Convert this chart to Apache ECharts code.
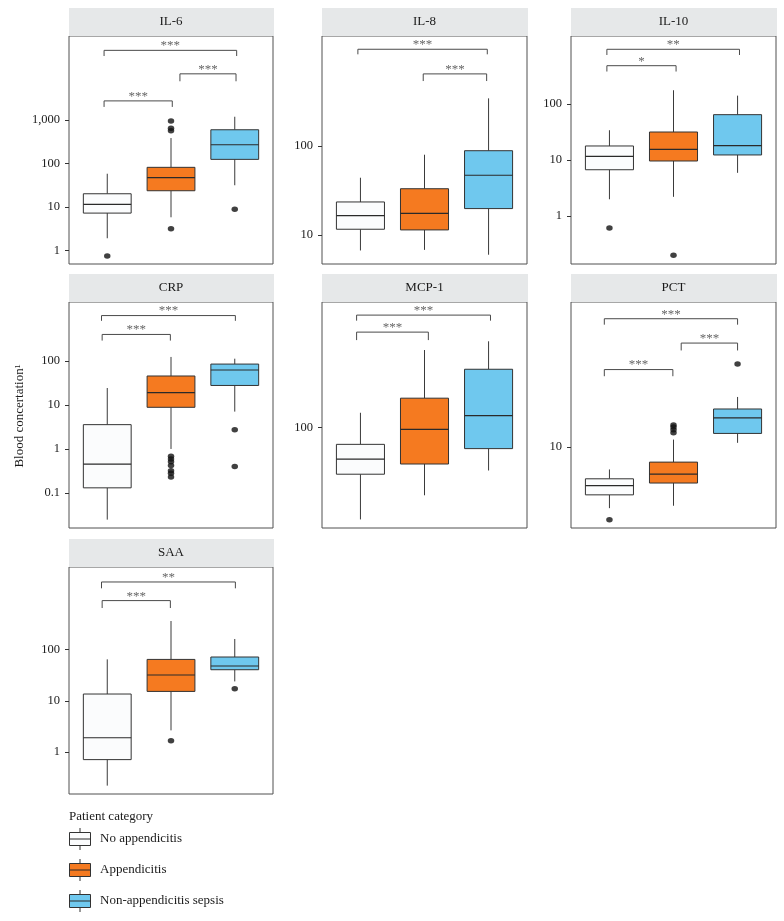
<!DOCTYPE html>
<html><head><meta charset="utf-8">
<script src="https://cdn.jsdelivr.net/npm/echarts@6/dist/echarts.min.js"></script>
<style>html,body{margin:0;padding:0;background:#fff}#c{width:784px;height:921px}</style>
</head><body><div id="c"></div><script>
// ---------- data ----------
const categories = ['No appendicitis', 'Appendicitis', 'Non-appendicitis sepsis'];
const panelNames = ['IL-6', 'IL-8', 'IL-10', 'CRP', 'MCP-1', 'PCT', 'SAA'];

// box stats per category: [whiskerLow, Q1, median, Q3, whiskerHigh]
const il6Box  = [[1.93, 7.3, 11.6, 20.3, 58.5], [5.85, 23.8, 47.4, 82, 386], [31.8, 125, 271, 598, 1190]];
const il8Box  = [[6.7, 11.6, 16.5, 23.5, 44], [6.8, 11.4, 17.5, 33.1, 79.8], [6.0, 19.8, 46.9, 88.5, 343]];
const il10Box = [[1.99, 6.7, 11.6, 17.8, 34], [2.2, 9.6, 15.5, 31.6, 176], [5.9, 12.3, 18, 64.5, 141]];
const crpBox  = [[0.0245, 0.13, 0.45, 3.58, 24.5], [1.0, 8.9, 19.2, 46, 125], [7.1, 28, 63, 86, 114]];
const mcp1Box = [[26.7, 51.2, 63.7, 78.7, 124], [37.8, 59.3, 97.7, 153, 306], [54, 74, 119, 232, 347]];
const pctBox  = [[4.95, 5.77, 6.41, 6.94, 7.73], [5.09, 6.61, 7.33, 8.41, 10.9], [10.5, 11.7, 14, 15.5, 17.8]];
const saaBox  = [[0.22, 0.71, 1.9, 13.6, 64.8], [2.65, 15.3, 32, 64.6, 364], [24, 40.6, 48, 72, 162]];

// outliers per category
const il6Out  = [[0.76], [3.2, 570, 646, 948], [8.9]];
const il8Out  = [[], [], []];
const il10Out = [[0.61], [0.2], []];
const crpOut  = [[], [0.68, 0.59, 0.51, 0.42, 0.32, 0.28, 0.23], [2.75, 0.40]];
const mcp1Out = [[], [], []];
const pctOut  = [[4.33], [11.8, 12.2, 12.6, 12.9], [26]];
const saaOut  = [[], [1.66], [17.3]];

// significance brackets: [fromX, toX, barValue, tipValue, label]
const il6Sig  = [[0.95, 3.03, 39800, 29500, '***'], [2.14, 3.02, 11500, 7760, '***'], [0.95, 2.02, 2750, 2000, '***']];
const il8Sig  = [[0.96, 2.98, 1222, 1072, '***'], [1.98, 2.97, 646, 537, '***']];
const il10Sig = [[0.96, 3.03, 948, 750, '**'], [0.96, 2.04, 483, 380, '*']];
const crpSig  = [[0.91, 3.01, 1096, 832, '***'], [0.92, 1.99, 407, 295, '***']];
const mcp1Sig = [[0.94, 3.03, 506, 467, '***'], [0.94, 2.06, 396, 353, '***']];
const pctSig  = [[0.92, 3.0, 43.8, 40.9, '***'], [2.12, 3.0, 33.1, 30.4, '***'], [0.92, 1.99, 24.4, 22.6, '***']];
const saaSig  = [[0.91, 3.01, 2109, 1585, '**'], [0.92, 1.99, 912, 653, '***']];

// y tick labels (values)
const il6Ticks  = [1, 10, 100, 1000];
const il8Ticks  = [10, 100];
const il10Ticks = [1, 10, 100];
const crpTicks  = [0.1, 1, 10, 100];
const mcp1Ticks = [100];
const pctTicks  = [10];
const saaTicks  = [1, 10, 100];

// y-axis ranges (values)
const il6Range  = [0.495, 85000];
const il8Range  = [4.72, 1722];
const il10Range = [0.139, 1637];
const crpRange  = [0.0158, 2234];
const mcp1Range = [23.6, 611];
const pctRange  = [3.94, 53.1];
const saaRange  = [0.151, 4140];

const yTitle = 'Blood concertation¹';
const legendTitle = 'Patient category';

// ---------- layout / style ----------
const FONT = "'Liberation Serif', 'DejaVu Serif', serif";
const fills = ['#fbfcfd', '#f57a20', '#6fc8ee'];
const panels = [
  { box: il6Box,  out: il6Out,  sig: il6Sig,  ticks: il6Ticks,  range: il6Range },
  { box: il8Box,  out: il8Out,  sig: il8Sig,  ticks: il8Ticks,  range: il8Range },
  { box: il10Box, out: il10Out, sig: il10Sig, ticks: il10Ticks, range: il10Range },
  { box: crpBox,  out: crpOut,  sig: crpSig,  ticks: crpTicks,  range: crpRange },
  { box: mcp1Box, out: mcp1Out, sig: mcp1Sig, ticks: mcp1Ticks, range: mcp1Range },
  { box: pctBox,  out: pctOut,  sig: pctSig,  ticks: pctTicks,  range: pctRange },
  { box: saaBox,  out: saaOut,  sig: saaSig,  ticks: saaTicks,  range: saaRange }
];
const colLeft = [69, 322, 571];
const colWidth = [204, 205, 205];
const rowTop = [36, 302, 567];
const rowHeight = [228, 226, 227];
const stripH = 28;

const lg = Math.log10;
function fmtTick(v) {
  const p = Math.pow(10, v);
  if (v < 0) return p.toFixed(Math.round(-v));
  return Math.round(p).toLocaleString('en-US');
}

const grids = [], xAxes = [], yAxes = [], series = [], graphics = [];

panels.forEach((p, i) => {
  const r = Math.floor(i / 3), c = i % 3;
  const left = colLeft[c], top = rowTop[r], w = colWidth[c], h = rowHeight[r];
  grids.push({ left, top, width: w, height: h, show: true, borderColor: '#505050', borderWidth: 1, backgroundColor: '#fff' });
  xAxes.push({ gridIndex: i, type: 'value', min: 0.4, max: 3.6, show: false });
  const tv = p.ticks.map(lg);
  yAxes.push({
    gridIndex: i, type: 'value', min: lg(p.range[0]), max: lg(p.range[1]),
    axisLine: { show: false }, splitLine: { show: false },
    axisTick: { show: true, customValues: tv, length: 4, lineStyle: { color: '#333' } },
    axisLabel: { customValues: tv, formatter: fmtTick, margin: 9, fontSize: 12.5, color: '#1a1a1a', fontFamily: FONT }
  });
  // strip
  graphics.push({ type: 'rect', shape: { x: left, y: top - stripH, width: w + 1, height: stripH }, style: { fill: '#e6e8e9' }, silent: true });
  graphics.push({ type: 'text', x: left + w / 2, y: top - stripH / 2, style: { text: panelNames[i], align: 'center', verticalAlign: 'middle', fontSize: 13, fill: '#1a1a1a', fontFamily: FONT } });

  // boxes
  const boxData = p.box.map((b, ci) => [ci + 1, lg(b[0]), lg(b[1]), lg(b[2]), lg(b[3]), lg(b[4]), ci]);
  series.push({
    type: 'custom', xAxisIndex: i, yAxisIndex: i, data: boxData, encode: { x: 0, y: [1, 2, 3, 4, 5] },
    renderItem: function (params, api) {
      const x = api.value(0), ci = api.value(6);
      const lo = api.coord([x, api.value(1)]), q1 = api.coord([x, api.value(2)]), md = api.coord([x, api.value(3)]),
            q3 = api.coord([x, api.value(4)]), hi = api.coord([x, api.value(5)]);
      const xl = api.coord([x - 0.375, 0])[0], xr = api.coord([x + 0.375, 0])[0];
      const ws = { stroke: '#3a3a3a', lineWidth: 1 };
      return { type: 'group', children: [
        { type: 'line', shape: { x1: hi[0], y1: hi[1], x2: q3[0], y2: q3[1] }, style: ws },
        { type: 'line', shape: { x1: q1[0], y1: q1[1], x2: lo[0], y2: lo[1] }, style: ws },
        { type: 'rect', shape: { x: xl, y: q3[1], width: xr - xl, height: q1[1] - q3[1] }, style: { fill: fills[ci], stroke: '#333', lineWidth: 1 } },
        { type: 'line', shape: { x1: xl, y1: md[1], x2: xr, y2: md[1] }, style: { stroke: '#2a2a2a', lineWidth: 1.2 } }
      ] };
    }
  });
  // outliers
  const outData = [];
  p.out.forEach((arr, ci) => arr.forEach(v => outData.push([ci + 1, lg(v)])));
  series.push({ type: 'scatter', xAxisIndex: i, yAxisIndex: i, data: outData, symbol: 'circle', symbolSize: [6.5, 5.5], itemStyle: { color: '#111' }, silent: true });
  // brackets
  const sig = p.sig;
  series.push({
    type: 'custom', xAxisIndex: i, yAxisIndex: i,
    data: sig.map(s => [s[0], s[1], lg(s[2]), lg(s[3])]), encode: { x: [0, 1], y: [2, 3] },
    renderItem: function (params, api) {
      const x1 = api.value(0), x2 = api.value(1), bar = api.value(2), tip = api.value(3);
      const a = api.coord([x1, tip]), b = api.coord([x1, bar]), cc = api.coord([x2, bar]), d = api.coord([x2, tip]);
      return { type: 'group', children: [
        { type: 'polyline', shape: { points: [a, b, cc, d] }, style: { stroke: '#4a4a4a', fill: null, lineWidth: 1 } },
        { type: 'text', style: { text: sig[params.dataIndex][4], x: (b[0] + cc[0]) / 2, y: b[1] + 2, align: 'center', verticalAlign: 'bottom', fontSize: 13, fill: '#666', fontFamily: FONT } }
      ] };
    }
  });
});

// y title
graphics.push({ type: 'text', x: 20, y: 416, rotation: Math.PI / 2,
  style: { text: yTitle, align: 'center', verticalAlign: 'middle', fontSize: 13, fill: '#1a1a1a', fontFamily: FONT } });

// legend
graphics.push({ type: 'text', x: 69, y: 817, style: { text: legendTitle, align: 'left', verticalAlign: 'middle', fontSize: 13, fill: '#1a1a1a', fontFamily: FONT } });
categories.forEach((name, ci) => {
  const cy = 839 + ci * 31;
  graphics.push({ type: 'line', shape: { x1: 80, y1: cy - 11, x2: 80, y2: cy + 11 }, style: { stroke: '#333', lineWidth: 1 } });
  graphics.push({ type: 'rect', shape: { x: 69.5, y: cy - 6.5, width: 21, height: 13 }, style: { fill: fills[ci], stroke: '#333', lineWidth: 1 } });
  graphics.push({ type: 'line', shape: { x1: 69.5, y1: cy, x2: 90.5, y2: cy }, style: { stroke: '#2a2a2a', lineWidth: 1 } });
  graphics.push({ type: 'text', x: 100, y: cy, style: { text: name, align: 'left', verticalAlign: 'middle', fontSize: 13, fill: '#1a1a1a', fontFamily: FONT } });
});

const chart = echarts.init(document.getElementById('c'), null, { renderer: 'canvas' });
chart.setOption({
  animation: false,
  backgroundColor: '#fff',
  grid: grids, xAxis: xAxes, yAxis: yAxes, series: series,
  graphic: { elements: graphics }
});
</script></body></html>
